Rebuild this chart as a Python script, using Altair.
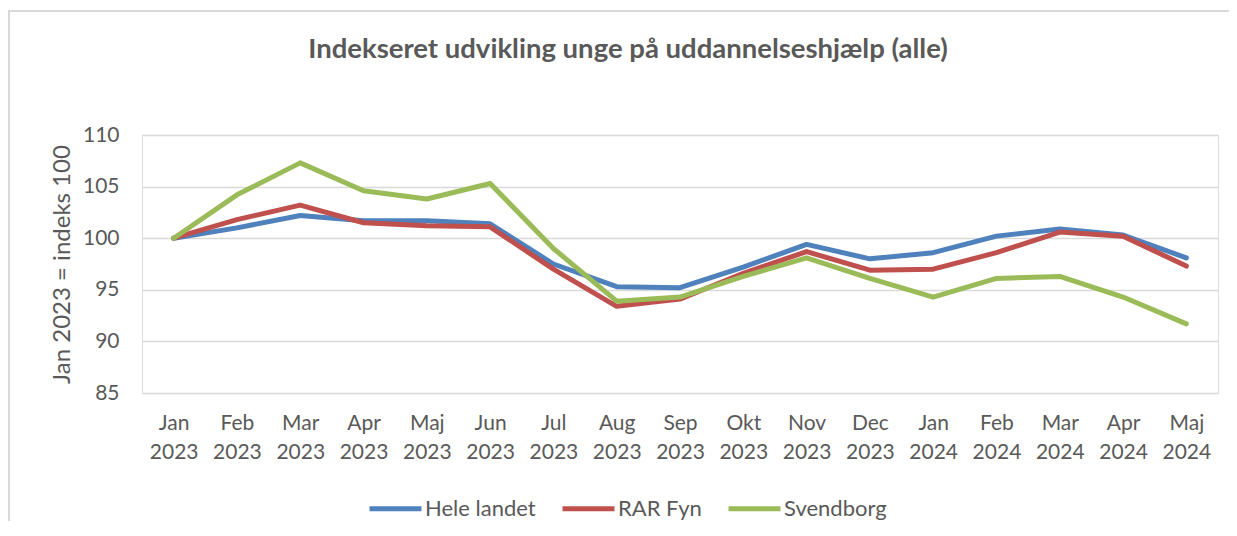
import altair as alt
import pandas as pd

months = ["Jan 2023", "Feb 2023", "Mar 2023", "Apr 2023", "Maj 2023", "Jun 2023",
          "Jul 2023", "Aug 2023", "Sep 2023", "Okt 2023", "Nov 2023", "Dec 2023",
          "Jan 2024", "Feb 2024", "Mar 2024", "Apr 2024", "Maj 2024"]

series_names = ["Hele landet", "RAR Fyn", "Svendborg"]
series_colors = ["#4F81BD", "#C0504D", "#9BBB59"]

hele_landet = [100.0, 101.0, 102.2, 101.7, 101.7, 101.4, 97.5, 95.3, 95.2, 97.2, 99.4,
               98.0, 98.6, 100.2, 100.9, 100.3, 98.1]
rar_fyn = [100.0, 101.8, 103.2, 101.5, 101.2, 101.1, 97.0, 93.4, 94.1, 96.6, 98.7,
           96.9, 97.0, 98.6, 100.6, 100.2, 97.3]
svendborg = [100.0, 104.2, 107.3, 104.6, 103.8, 105.3, 99.0, 93.9, 94.3, 96.3, 98.1,
             96.1, 94.3, 96.1, 96.3, 94.3, 91.7]

y_ticks = [85, 90, 95, 100, 105, 110]

rows = []
for name, vals in zip(series_names, [hele_landet, rar_fyn, svendborg]):
    for i, (m, v) in enumerate(zip(months, vals)):
        rows.append({"Måned": m, "Serie": name, "Indeks": v, "order": i})
df = pd.DataFrame(rows)

FONT = "Lato"
GREY = "#595959"
W, H = 1076, 258

lines = alt.Chart(df).mark_line(strokeWidth=5, strokeCap="round", strokeJoin="round").encode(
    x=alt.X("Måned:N", sort=months,
            scale=alt.Scale(type="point", padding=0.5),
            axis=alt.Axis(title=None, labelAngle=0, grid=False, domain=False, ticks=False,
                          labelExpr="split(datum.label, ' ')", labelLineHeight=29,
                          labelPadding=19, labelFontSize=21, labelColor=GREY, labelFont=FONT)),
    y=alt.Y("Indeks:Q",
            scale=alt.Scale(domain=[85, 110], nice=False, zero=False),
            axis=alt.Axis(values=y_ticks, title="Jan 2023 = indeks 100", domain=False, ticks=False,
                          grid=True, gridColor="#d9d9d9", gridWidth=1.5,
                          labelFontSize=21, labelColor=GREY, labelFont=FONT, labelPadding=23,
                          titleFontSize=24, titleColor=GREY, titleFont=FONT, titleFontWeight="normal",
                          titleX=-80, titleY=H / 2, titleAngle=270,
                          titleAlign="center", titleBaseline="middle")),
    color=alt.Color("Serie:N", sort=series_names,
                    scale=alt.Scale(domain=series_names, range=series_colors),
                    legend=alt.Legend(title=None, orient="none", direction="horizontal",
                                      legendX=225, legendY=345,
                                      symbolType="stroke", symbolSize=2700, symbolStrokeWidth=5,
                                      labelFontSize=22, labelColor=GREY, labelFont=FONT,
                                      labelOffset=1, columnPadding=16)),
    order=alt.Order("order:Q"),
)

frame = alt.Chart(pd.DataFrame({"f": [0]})).mark_rect(
    fill=None, stroke="#d9d9d9", strokeWidth=2
).encode(
    x=alt.value(-133), y=alt.value(-124), x2=alt.value(W + 300), y2=alt.value(H + 400)
)

chart = alt.layer(frame, lines).properties(
    width=W, height=H,
    title=alt.TitleParams("Indekseret udvikling unge på uddannelseshjælp (alle)",
                          fontSize=27.5, fontWeight="bold", color=GREY, font=FONT,
                          anchor="middle", frame="group", dx=-52, offset=-75,
                          baseline="alphabetic"),
    autosize=alt.AutoSizeParams(type="none"),
    padding={"left": 134, "top": 127, "right": 11, "bottom": 128},
).configure_view(stroke=None).configure(background="white")

chart.save("out.html", embed_options={"renderer": "svg", "actions": False})
